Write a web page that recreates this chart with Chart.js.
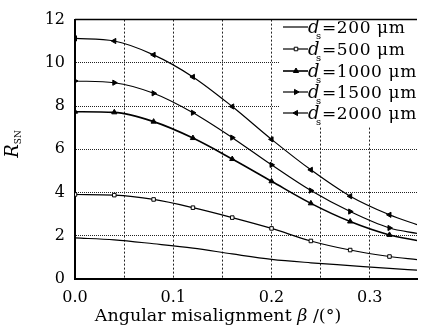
<!DOCTYPE html>
<html>
<head>
<meta charset="utf-8">
<script src="https://cdn.jsdelivr.net/npm/chart.js@4.4.1/dist/chart.umd.min.js"></script>
<style>
    html, body { margin: 0; padding: 0; background: #fff; overflow: hidden; }
    canvas { display: block; }
</style>
</head>
<body>
<canvas id="c" width="422" height="331"></canvas>
<script>
    // angular misalignment (deg) at each sample
    const beta = [0, 0.04, 0.08, 0.12, 0.16, 0.20, 0.24, 0.28, 0.32, 0.348];
    const d200 = [1.90, 1.81, 1.63, 1.43, 1.16, 0.91, 0.75, 0.62, 0.49, 0.41];
    const d500 = [3.91, 3.88, 3.68, 3.30, 2.84, 2.34, 1.76, 1.34, 1.04, 0.90];
    const d1000 = [7.74, 7.71, 7.28, 6.52, 5.55, 4.52, 3.50, 2.66, 2.04, 1.78];
    const d1500 = [9.16, 9.08, 8.59, 7.69, 6.54, 5.28, 4.09, 3.12, 2.36, 2.11];
    const d2000 = [11.13, 11.01, 10.37, 9.35, 7.98, 6.46, 5.05, 3.83, 2.97, 2.51];
    const seriesNames = ['200', '500', '1000', '1500', '2000'];
    const xGridTicks = [0, 0.05, 0.10, 0.15, 0.20, 0.25, 0.30];
    const yTicks = [0, 2, 4, 6, 8, 10, 12];

    const SERIF = '"DejaVu Serif", "Liberation Serif", serif';

    const styles = [
        { pointStyle: false, rotation: 0, width: 1.2 },
        { pointStyle: 'rect', rotation: 0, width: 1.2, fill: '#fff', radius: 2.5 },
        { pointStyle: 'triangle', rotation: 0, width: 1.6, fill: '#000', radius: 3 },
        { pointStyle: 'triangle', rotation: 90, width: 1.2, fill: '#000', radius: 3 },
        { pointStyle: 'triangle', rotation: -90, width: 1.2, fill: '#000', radius: 3 },
    ];

    const datasets = [d200, d500, d1000, d1500, d2000].map((vals, i) => {
        const st = styles[i];
        return {
            label: seriesNames[i],
            data: vals.map((v, k) => ({ x: beta[k], y: v })),
            borderColor: '#000',
            borderWidth: st.width,
            backgroundColor: st.fill || '#000',
            pointStyle: st.pointStyle,
            pointRotation: st.rotation,
            pointRadius: st.pointStyle ? vals.map((v, k) => (k === vals.length - 1 ? 0 : st.radius)) : 0,
            pointBorderColor: '#000',
            pointBorderWidth: 1,
            cubicInterpolationMode: 'monotone',
        };
    });

    const frame = {
        id: 'frame',
        afterDatasetsDraw(chart) {
            const ctx = chart.ctx;
            // legend box, covers grid lines
            const lx = 280, ly = 16, lw = 142, lh = 109;
            ctx.save();
            ctx.fillStyle = '#fff';
            ctx.fillRect(lx, ly + 1, lw, lh);
            const rows = [27, 49, 71, 92, 113];
            seriesNames.forEach((name, i) => {
                const st = styles[i];
                const y = rows[i];
                ctx.strokeStyle = '#000';
                ctx.lineWidth = st.width;
                ctx.beginPath();
                ctx.moveTo(283, y);
                ctx.lineTo(308, y);
                ctx.stroke();
                if (st.pointStyle) {
                    ctx.fillStyle = st.fill;
                    ctx.lineWidth = 1;
                    Chart.helpers.drawPoint(ctx, { pointStyle: st.pointStyle, rotation: st.rotation, radius: st.radius, borderWidth: 1 }, 296, y);
                }
                ctx.fillStyle = '#000';
                ctx.textBaseline = 'alphabetic';
                ctx.textAlign = 'left';
                ctx.font = 'italic 18px ' + SERIF;
                ctx.fillText('d', 308, y + 6);
                ctx.font = '10px ' + SERIF;
                ctx.fillText('s', 316, y + 12);
                ctx.font = '17px ' + SERIF;
                ctx.letterSpacing = '0.6px';
                ctx.fillText('=' + name + ' \u03bcm', 322, y + 6);
                ctx.letterSpacing = '0px';
            });
            ctx.restore();
        },
        afterDraw(chart) {
            const ctx = chart.ctx;
            const a = chart.chartArea;
            ctx.save();
            ctx.strokeStyle = '#000';
            ctx.lineWidth = 1.5;
            ctx.beginPath();
            ctx.moveTo(a.left, a.top);
            ctx.lineTo(a.right, a.top);
            ctx.stroke();

            // x title
            ctx.fillStyle = '#000';
            ctx.textBaseline = 'alphabetic';
            ctx.textAlign = 'left';
            const fs = 17.5;
            const p1 = 'Angular misalignment ';
            const p2 = '\u03b2';
            const p3 = ' /(\u00b0)';
            ctx.font = fs + 'px ' + SERIF;
            const w1 = ctx.measureText(p1).width, w3 = ctx.measureText(p3).width;
            ctx.font = 'italic ' + fs + 'px ' + SERIF;
            const w2 = ctx.measureText(p2).width;
            const x = 218 - (w1 + w2 + w3) / 2;
            ctx.font = fs + 'px ' + SERIF;
            ctx.fillText(p1, x, 321);
            ctx.font = 'italic ' + fs + 'px ' + SERIF;
            ctx.fillText(p2, x + w1, 321);
            ctx.font = fs + 'px ' + SERIF;
            ctx.fillText(p3, x + w1 + w2, 321);

            // y title R_SN
            ctx.translate(18, 144);
            ctx.rotate(-Math.PI / 2);
            ctx.font = 'italic 18px ' + SERIF;
            const wr = ctx.measureText('R').width;
            ctx.font = '9px ' + SERIF;
            const ws = ctx.measureText('SN').width;
            const x0 = -(wr + ws) / 2;
            ctx.font = 'italic 18px ' + SERIF;
            ctx.fillText('R', x0, 0);
            ctx.font = '9px ' + SERIF;
            ctx.fillText('SN', x0 + wr, 3);
            ctx.restore();
        },
    };

    new Chart(document.getElementById('c'), {
        type: 'line',
        data: { datasets },
        options: {
            responsive: false,
            devicePixelRatio: 1,
            animation: false,
            layout: { padding: { top: 16, right: 0, left: 0, bottom: 0 } },
            plugins: { legend: { display: false }, tooltip: { enabled: false } },
            scales: {
                x: {
                    type: 'linear',
                    min: 0,
                    max: 0.348,
                    afterBuildTicks: (s) => { s.ticks = xGridTicks.map((v) => ({ value: v })); },
                    afterFit: (s) => { s.height = 52; },
                    ticks: {
                        autoSkip: false,
                        maxRotation: 0,
                        padding: 9,
                        color: '#000',
                        font: { family: SERIF, size: 16 },
                        callback: (v) => (Math.abs(v * 10 - Math.round(v * 10)) < 1e-6 ? v.toFixed(1) : ''),
                    },
                    grid: {
                        drawTicks: false,
                        color: (c) => (c.tick && c.tick.value === 0 ? 'rgba(0,0,0,0)' : '#222'),
                        lineWidth: 1,
                    },
                    border: { display: true, color: '#000', width: 2, dash: [2, 2] },
                },
                y: {
                    min: 0,
                    max: 12,
                    afterBuildTicks: (s) => { s.ticks = yTicks.map((v) => ({ value: v })); },
                    afterFit: (s) => { s.width = 75; },
                    ticks: {
                        padding: 10,
                        color: '#000',
                        font: { family: SERIF, size: 16 },
                    },
                    grid: {
                        drawTicks: false,
                        color: (c) => (c.tick && (c.tick.value === 0 || c.tick.value === 12) ? 'rgba(0,0,0,0)' : '#222'),
                        lineWidth: 1,
                    },
                    border: { display: true, color: '#000', width: 2, dash: [1, 1] },
                },
            },
        },
        plugins: [frame],
    });
</script>
</body>
</html>
